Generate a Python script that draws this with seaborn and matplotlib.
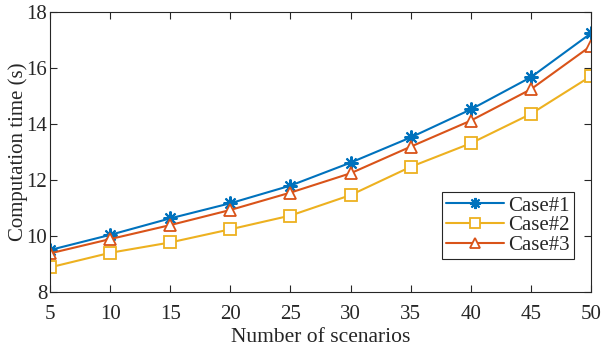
import matplotlib
matplotlib.use("Agg")
import matplotlib.pyplot as plt
import pandas as pd
import numpy as np
import seaborn as sb

scenarios = [5, 10, 15, 20, 25, 30, 35, 40, 45, 50]
case1 = [9.50, 10.04, 10.63, 11.17, 11.80, 12.62, 13.52, 14.52, 15.67, 17.24]
case2 = [8.88, 9.40, 9.77, 10.24, 10.73, 11.46, 12.47, 13.31, 14.36, 15.71]
case3 = [9.38, 9.89, 10.39, 10.93, 11.55, 12.24, 13.19, 14.12, 15.24, 16.79]
labels = ['Case#1', 'Case#2', 'Case#3']

df = pd.DataFrame({'x': scenarios * 3,
                   'y': case1 + case2 + case3,
                   'case': [labels[0]] * 10 + [labels[1]] * 10 + [labels[2]] * 10})

sb.set_theme(style="ticks")
plt.rcParams['font.family'] = ['Liberation Serif', 'DejaVu Serif']
plt.rcParams['xtick.direction'] = 'in'
plt.rcParams['ytick.direction'] = 'in'

colors = ['#0072BD', '#EDB120', '#D95319']
markers = [(8, 2, 0), 's', '^']

fig = plt.figure(figsize=(6.07, 3.49), dpi=100)
ax = fig.add_axes([0.0824, 0.1633, 0.8912, 0.8023])
for lab, c, m in zip(labels, colors, markers):
    sub = df[df['case'] == lab]
    if lab == 'Case#1':
        sb.lineplot(data=sub, x='x', y='y', ax=ax, color=c, marker=m, markersize=10,
                    markeredgecolor=c, markeredgewidth=1.5, linewidth=1.5, label=lab,
                    errorbar=None)
    else:
        sb.lineplot(data=sub, x='x', y='y', ax=ax, color=c, marker=m, markersize=9,
                    markeredgecolor=c, markerfacecolor='white', markeredgewidth=1.3,
                    linewidth=1.5, label=lab, errorbar=None)

ax.set_xlim(5, 50)
ax.set_ylim(8, 18)
ax.set_xticks(range(5, 55, 5))
ax.set_yticks(range(8, 20, 2))
ax.tick_params(axis='both', labelsize=15, colors='#262626', length=5, width=0.8,
               top=True, right=True)
ax.tick_params(axis='x', pad=9)
ax.tick_params(axis='y', pad=2)
for s in ax.spines.values():
    s.set_linewidth(0.8)
    s.set_color('#262626')
ax.set_xlabel('Number of scenarios', fontsize=15.5, labelpad=3)
ax.set_ylabel('Computation time (s)', fontsize=15, labelpad=-1)
leg = ax.legend(loc='lower right', bbox_to_anchor=(0.969, 0.118), fontsize=15,
                frameon=True, fancybox=False, edgecolor='#262626', framealpha=1,
                handlelength=2.8, handletextpad=0.2, borderpad=0.2, labelspacing=0.0,
                borderaxespad=0, markerscale=0.8)
leg.get_frame().set_linewidth(0.8)

fig.savefig('out.png', dpi=100)
